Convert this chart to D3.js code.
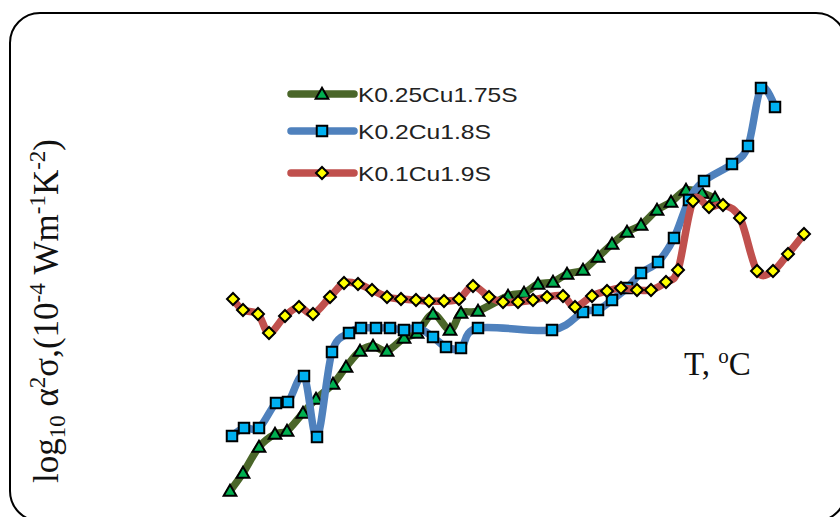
<!DOCTYPE html>
<html>
<head>
<meta charset="utf-8">
<script src="https://cdn.jsdelivr.net/npm/d3@7"></script>
<style>
  html, body { margin: 0; padding: 0; background: #fff; }
  svg { display: block; }
</style>
</head>
<body>
<svg id="chart" width="840" height="517"></svg>
<script>
// Temperature (°C) and log10 power factor readings for each composition
const tempK025 = [30, 39.1, 50.3, 61.5, 69.9, 81.1, 90.2, 102.1, 111.2, 121, 130.1, 139.9, 151.8, 160.9, 172.1, 184, 191.7, 203.6, 224.6, 235.8, 245.6, 256.1, 265.9, 277.1, 287.6, 297.4, 307.9, 317.7, 328.9, 338.7, 349.2, 360.4, 369.5];
const pfK025   = [0.145, 0.235, 0.365, 0.43, 0.445, 0.535, 0.605, 0.68, 0.765, 0.845, 0.87, 0.845, 0.91, 0.935, 1.03, 0.95, 1.035, 1.045, 1.12, 1.135, 1.18, 1.19, 1.23, 1.25, 1.315, 1.38, 1.44, 1.475, 1.55, 1.59, 1.65, 1.635, 1.61];

const tempK02 = [31.4, 39.8, 50.3, 62.2, 70.6, 81.8, 90.9, 101.4, 113.3, 121.7, 132.2, 142, 151.8, 161.6, 172.1, 181.2, 191.7, 203.6, 255.4, 277.1, 287.6, 297.4, 307.9, 317.7, 329.6, 340.8, 351.3, 361.8, 381.4, 392.6, 401.7, 411.5];
const pfK02   = [0.42, 0.46, 0.46, 0.585, 0.59, 0.72, 0.415, 0.84, 0.935, 0.96, 0.96, 0.96, 0.95, 0.96, 0.915, 0.865, 0.86, 0.96, 0.95, 1.04, 1.05, 1.10, 1.16, 1.235, 1.29, 1.41, 1.60, 1.695, 1.78, 1.87, 2.16, 2.065];

const tempK01 = [32.1, 39.1, 49.6, 57.3, 68.5, 78.3, 88.1, 100, 109.8, 119.6, 129.4, 139.9, 149.7, 160.2, 169.3, 179.8, 190.3, 200.1, 211.3, 221.1, 231.6, 242.1, 251.9, 263.1, 271.5, 283.4, 293.9, 303.7, 314.9, 324.7, 335.2, 343.6, 354.1, 365.3, 375.1, 387, 398.9, 410.1, 420.6, 431.8];
const pfK01   = [1.105, 1.05, 1.03, 0.935, 1.02, 1.065, 1.03, 1.115, 1.185, 1.18, 1.15, 1.115, 1.105, 1.10, 1.095, 1.095, 1.105, 1.17, 1.115, 1.09, 1.09, 1.10, 1.115, 1.12, 1.065, 1.12, 1.145, 1.16, 1.15, 1.15, 1.19, 1.25, 1.595, 1.565, 1.575, 1.51, 1.245, 1.245, 1.33, 1.43];

const seriesNames = ["K0.25Cu1.75S", "K0.2Cu1.8S", "K0.1Cu1.9S"];

const series = [
  { name: seriesNames[0], t: tempK025, v: pfK025, line: "#4a6629", fill: "#00b050", shape: "triangle" },
  { name: seriesNames[1], t: tempK02,  v: pfK02,  line: "#4f81bd", fill: "#00b0f0", shape: "square" },
  { name: seriesNames[2], t: tempK01,  v: pfK01,  line: "#c0504d", fill: "#ffff00", shape: "diamond" }
];

const svg = d3.select("#chart");

// Rounded chart frame
svg.append("rect")
  .attr("x", 10).attr("y", 13)
  .attr("width", 836).attr("height", 508)
  .attr("rx", 30).attr("ry", 30)
  .attr("fill", "#fff")
  .attr("stroke", "#000")
  .attr("stroke-width", 2);

const x = d3.scaleLinear().domain([30, 430]).range([230, 230 + 400 / 0.7]);
const y = d3.scaleLinear().domain([0, 2.2]).range([520, 80]);

const line = d3.line()
  .x(d => x(d[0]))
  .y(d => y(d[1]))
  .curve(d3.curveCardinal.tension(0));

function markerPath(shape) {
  if (shape === "triangle") return d3.symbol().type(d3.symbolTriangle).size(70)();
  if (shape === "square") return d3.symbol().type(d3.symbolSquare).size(110)();
  return d3.symbol().type(d3.symbolSquare).size(72)();
}
function markerRotate(shape) { return shape === "diamond" ? 45 : 0; }

const plot = svg.append("g");

series.forEach(s => {
  const pts = s.t.map((t, i) => [t, s.v[i]]);
  const g = plot.append("g");
  g.append("path")
    .datum(pts)
    .attr("d", line)
    .attr("fill", "none")
    .attr("stroke", s.line)
    .attr("stroke-width", 7.5)
    .attr("stroke-linecap", "round")
    .attr("stroke-linejoin", "round");
  g.selectAll("path.mk")
    .data(pts)
    .join("path")
    .attr("class", "mk")
    .attr("d", markerPath(s.shape))
    .attr("transform", d => `translate(${x(d[0])},${y(d[1]) + (s.shape === "triangle" ? 1 : 0)}) rotate(${markerRotate(s.shape)})`)
    .attr("fill", s.fill)
    .attr("stroke", "#000")
    .attr("stroke-width", 2);
});

// Legend
const legend = svg.append("g");
const legendY = [94, 131, 173];
series.forEach((s, i) => {
  const ly = legendY[i];
  legend.append("line")
    .attr("x1", 291).attr("x2", 354)
    .attr("y1", ly).attr("y2", ly)
    .attr("stroke", s.line)
    .attr("stroke-width", 7.5)
    .attr("stroke-linecap", "round");
  legend.append("path")
    .attr("d", markerPath(s.shape))
    .attr("transform", `translate(322,${ly + (s.shape === "triangle" ? 1 : 0)}) rotate(${markerRotate(s.shape)})`)
    .attr("fill", s.fill)
    .attr("stroke", "#000")
    .attr("stroke-width", 2);
  legend.append("text")
    .attr("x", 358).attr("y", ly + 8)
    .attr("font-family", "Liberation Sans, Arial, sans-serif")
    .attr("font-size", 21)
    .attr("fill", "#222")
    .attr("textLength", s.name.length * 13.3)
    .attr("lengthAdjust", "spacingAndGlyphs")
    .text(s.name);
});

// Axis titles
const tLabel = svg.append("text")
  .attr("x", 684).attr("y", 375)
  .attr("font-family", "Liberation Serif, Times New Roman, serif")
  .attr("font-size", 33)
  .attr("fill", "#111");
tLabel.append("tspan").text("T, ");
tLabel.append("tspan").attr("font-size", 21).attr("dy", -12).text("o");
tLabel.append("tspan").attr("dy", 12).text("C");

const yLabel = svg.append("text")
  .attr("transform", "translate(58,311) rotate(-90)")
  .attr("text-anchor", "middle")
  .attr("font-family", "Liberation Serif, Times New Roman, serif")
  .attr("font-size", 35)
  .attr("fill", "#111");
yLabel.append("tspan").text("log");
yLabel.append("tspan").attr("font-size", 23).attr("dy", 7).text("10");
yLabel.append("tspan").attr("dy", -7).text(" α");
yLabel.append("tspan").attr("font-size", 23).attr("dy", -13).text("2");
yLabel.append("tspan").attr("dy", 13).text("σ,(10");
yLabel.append("tspan").attr("font-size", 23).attr("dy", -13).text("-4");
yLabel.append("tspan").attr("dy", 13).text(" Wm");
yLabel.append("tspan").attr("font-size", 23).attr("dy", -13).text("-1");
yLabel.append("tspan").attr("dy", 13).text("K");
yLabel.append("tspan").attr("font-size", 23).attr("dy", -13).text("-2");
yLabel.append("tspan").attr("dy", 13).text(")");
</script>
</body>
</html>
